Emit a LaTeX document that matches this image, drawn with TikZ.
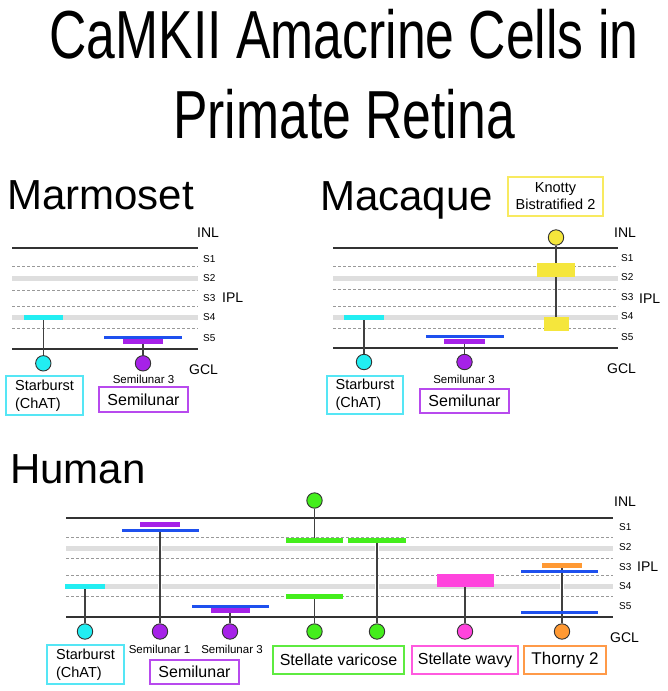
\documentclass[tikz,border=0pt]{standalone}
\usepackage{fontspec}
\setmainfont{Liberation Sans}
\definecolor{cyanC}{HTML}{22EEF2}
\definecolor{cyanB}{HTML}{55E6F5}
\definecolor{blueC}{HTML}{1E50EE}
\definecolor{purpC}{HTML}{A622E8}
\definecolor{purpB}{HTML}{B84AEE}
\definecolor{yelC}{HTML}{F5E63C}
\definecolor{yelB}{HTML}{F8EA60}
\definecolor{greenC}{HTML}{44EE1C}
\definecolor{greenB}{HTML}{5EEB40}
\definecolor{pinkC}{HTML}{FF44DD}
\definecolor{pinkB}{HTML}{FF5ADF}
\definecolor{orC}{HTML}{FF9933}
\definecolor{orB}{HTML}{FF9A48}
\definecolor{bandC}{HTML}{DEDEDE}
\definecolor{lineC}{HTML}{333333}
\definecolor{stemC}{HTML}{404040}
\pgfdeclarelayer{bg}
\pgfsetlayers{bg,main}
\tikzset{
  solidl/.style={draw=lineC, line width=1.4pt},
  dashl/.style={draw=black!40, dash pattern=on 3pt off 2pt, line width=0.7pt},
  bandl/.style={draw=bandC, line width=5pt},
  halo/.style={draw=white, line width=4pt},
  stem/.style={draw=stemC, line width=1.6pt},
  bar/.style={rectangle, inner sep=0pt, minimum height=5pt},
  thinbar/.style={rectangle, inner sep=0pt, minimum height=3pt, fill=blueC},
  soma/.style={circle, draw=lineC, line width=0.9pt, minimum size=15.4pt, inner sep=0pt},
  lab/.style={font=\fontsize{14}{16}\selectfont, inner sep=0pt, anchor=west},
  slab/.style={font=\fontsize{10}{12}\selectfont, inner sep=0pt, anchor=west},
  small/.style={font=\fontsize{11.5}{13}\selectfont, inner sep=0pt, anchor=base},
  sect/.style={font=\fontsize{42}{48}\selectfont, inner sep=0pt, anchor=base west},
  box/.style={rectangle, draw, line width=1.3pt, fill=white, inner sep=0pt, font=\fontsize{16}{19}\selectfont},
  box2/.style={rectangle, draw, line width=1.3pt, fill=white, inner sep=0pt, align=left, font=\fontsize{14.5}{18}\selectfont},
}
\begin{document}
\begin{tikzpicture}[x=1pt,y=-1pt]
\useasboundingbox (0,0) rectangle (667,691);
\begin{pgfonlayer}{bg}
\fill[white] (0,0) rectangle (667,691);
\end{pgfonlayer}

% Title
\node[anchor=base, inner sep=0pt, font=\fontsize{68}{80}\selectfont] (t1) at (344,58) {\scalebox{0.76}[1]{CaMKII Amacrine Cells in}};
\node[anchor=base, inner sep=0pt, font=\fontsize{68}{80}\selectfont] (t2) at (344,138) {\scalebox{0.76}[1]{Primate Retina}};

% Section titles
\node[sect] (marm) at (7,209) {Marmoset};
\node[sect] (maca) at (320,210) {Macaque};
\node[sect] (hum) at (10,483) {Human};

% ---------- Layers ----------
\begin{pgfonlayer}{bg}
% Marmoset
\draw[bandl] (12,278) -- (198,278);
\draw[bandl] (12,317) -- (198,317);
\foreach \y in {266,290,306,328} \draw[dashl] (12,\y) -- (198,\y);
\draw[solidl] (12,248) -- (198,248);
\draw[solidl] (12,349) -- (198,349);
% Macaque
\draw[bandl] (333,278) -- (618,278);
\draw[bandl] (333,317) -- (618,317);
\foreach \y in {266,289,306,328} \draw[dashl] (333,\y) -- (618,\y);
\draw[solidl] (333,248) -- (618,248);
\draw[solidl] (333,348) -- (618,348);
% Human
\draw[bandl] (66,548) -- (613,548);
\draw[bandl] (66,586) -- (613,586);
\foreach \y in {537,558,575,596} \draw[dashl] (66,\y) -- (613,\y);
\draw[solidl] (66,518) -- (613,518);
\draw[solidl] (66,617) -- (613,617);
\foreach \x in {160,377} {
  \draw[halo] (\x,545) -- (\x,551);
  \draw[halo] (\x,583) -- (\x,589);
}
\draw[halo] (562,583) -- (562,589);
\end{pgfonlayer}

% Layer labels
\node[lab] (m-inl) at (197,233) {INL};
\node[slab] (m-s1) at (203,259) {S1};
\node[slab] (m-s2) at (203,278) {S2};
\node[slab] (m-s3) at (203,298) {S3};
\node[slab] (m-s4) at (203,317) {S4};
\node[slab] (m-s5) at (203,338) {S5};
\node[lab] (m-ipl) at (222,298) {IPL};
\node[lab] (m-gcl) at (189,370) {GCL};

\node[lab] (q-inl) at (614,233) {INL};
\node[slab] (q-s1) at (621,258) {S1};
\node[slab] (q-s2) at (621,277) {S2};
\node[slab] (q-s3) at (621,297) {S3};
\node[slab] (q-s4) at (621,316) {S4};
\node[slab] (q-s5) at (621,337) {S5};
\node[lab] (q-ipl) at (639,299) {IPL};
\node[lab] (q-gcl) at (607,369) {GCL};

\node[lab] (h-inl) at (614,502) {INL};
\node[slab] (h-s1l) at (619,527) {S1};
\node[slab] (h-s2l) at (619,547) {S2};
\node[slab] (h-s3l) at (619,567) {S3};
\node[slab] (h-s4l) at (619,586) {S4};
\node[slab] (h-s5l) at (619,606) {S5};
\node[lab] (h-ipl) at (637,567) {IPL};
\node[lab] (h-gcl) at (610,638) {GCL};

% ---------- Marmoset cells ----------
\node[bar, fill=cyanC, minimum width=39pt] (m-sb) at (43.3,317) {};
\node[soma, fill=cyanC] (m-sbc) at (43.3,363.3) {};
\node[thinbar, minimum width=78pt] (m-s3b) at (143,337.3) {};
\node[bar, fill=purpC, minimum width=40pt] (m-s3p) at (143,341) {};
\node[soma, fill=purpC] (m-s3c) at (143,363.3) {};
\begin{pgfonlayer}{bg}
\draw[stem] (m-sb.center) -- (m-sbc);
\draw[stem] (m-s3p.center) -- (m-s3c);
\end{pgfonlayer}
\node[small] (m-s3t) at (143.5,383) {Semilunar 3};
\node[box2, draw=cyanB, minimum width=77pt, minimum height=39pt] (m-sbbox) at (44.5,395.5) {Starburst\\(ChAT)};
\node[box, draw=purpB, minimum width=89pt, minimum height=25pt] (m-slbox) at (143.5,399.5) {Semilunar};

% ---------- Macaque cells ----------
\node[bar, fill=cyanC, minimum width=40pt] (q-sb) at (364,317) {};
\node[soma, fill=cyanC] (q-sbc) at (364,362) {};
\node[thinbar, minimum width=78pt] (q-s3b) at (464.5,336.5) {};
\node[bar, fill=purpC, minimum width=41pt] (q-s3p) at (464.5,341) {};
\node[soma, fill=purpC] (q-s3c) at (464.5,362) {};
\node[soma, fill=yelC] (k-c) at (556,237.5) {};
\node[bar, fill=yelC, minimum width=38pt, minimum height=14pt] (k-b1) at (556,270) {};
\node[bar, fill=yelC, minimum width=25pt, minimum height=14pt] (k-b2) at (556,324) {};
\begin{pgfonlayer}{bg}
\draw[stem] (q-sb.center) -- (q-sbc);
\draw[stem] (q-s3p.center) -- (q-s3c);
\draw[stem] (k-c) -- (k-b2.center);
\end{pgfonlayer}
\node[small] (q-s3t) at (464,383) {Semilunar 3};
\node[box2, draw=cyanB, minimum width=76pt, minimum height=38pt] (q-sbbox) at (365,395) {Starburst\\(ChAT)};
\node[box, draw=purpB, minimum width=89pt, minimum height=24pt] (q-slbox) at (464.5,401) {Semilunar};
\node[box, draw=yelB, minimum width=95pt, minimum height=39pt, align=center, font=\fontsize{14.5}{17}\selectfont] (k-box) at (555.5,196.5) {Knotty\\Bistratified 2};

% ---------- Human cells ----------
\node[bar, fill=cyanC, minimum width=40pt] (h-sb) at (85,586.5) {};
\node[soma, fill=cyanC] (h-sbc) at (85,631.5) {};
\node[bar, fill=purpC, minimum width=40pt] (h-s1p) at (160,524) {};
\node[thinbar, minimum width=77pt] (h-s1b) at (160,530.7) {};
\node[soma, fill=purpC] (h-s1c) at (160,631.5) {};
\node[thinbar, minimum width=77pt] (h-s3b) at (230,606.3) {};
\node[bar, fill=purpC, minimum width=39pt] (h-s3p) at (230,610.3) {};
\node[soma, fill=purpC] (h-s3c) at (230,631.5) {};
\node[soma, fill=greenC] (h-v1top) at (314.5,500.5) {};
\node[bar, fill=greenC, minimum width=57pt] (h-v1t) at (314.5,540.4) {};
\node[bar, fill=greenC, minimum width=57pt] (h-v1b) at (314.5,596.5) {};
\node[soma, fill=greenC] (h-v1c) at (314.5,631.5) {};
\node[bar, fill=greenC, minimum width=58pt] (h-v2) at (377,540.4) {};
\node[soma, fill=greenC] (h-v2c) at (377,631.5) {};
\node[bar, fill=pinkC, minimum width=57pt, minimum height=13pt] (h-w) at (465,580.5) {};
\node[soma, fill=pinkC] (h-wc) at (465,631.5) {};
\node[bar, fill=orC, minimum width=40pt] (h-to) at (562,565) {};
\node[thinbar, minimum width=77pt] (h-tb1) at (559.5,571.7) {};
\node[thinbar, minimum width=77pt] (h-tb2) at (559.5,612) {};
\node[soma, fill=orC] (h-tc) at (562,631.5) {};
\begin{pgfonlayer}{bg}
\draw[stem] (h-sb.center) -- (h-sbc);
\draw[stem] (h-s1b.center) -- (h-s1c);
\draw[stem] (h-s3p.center) -- (h-s3c);
\draw[stem] (h-v1top) -- (h-v1t.center);
\draw[stem] (h-v1b.center) -- (h-v1c);
\draw[stem] (h-v2.center) -- (h-v2c);
\draw[stem] (h-w.center) -- (h-wc);
\draw[stem] (h-to.center) -- (h-tc);
\end{pgfonlayer}
\node[small] (h-s1t) at (159.5,653) {Semilunar 1};
\node[small] (h-s3t) at (232,653) {Semilunar 3};
\node[box2, draw=cyanB, minimum width=77pt, minimum height=39pt] (h-sbbox) at (85.5,664.5) {Starburst\\(ChAT)};
\node[box, draw=purpB, minimum width=89pt, minimum height=24pt] (h-slbox) at (194.5,672) {Semilunar};
\node[box, draw=greenB, minimum width=131pt, minimum height=28pt] (h-vbox) at (338.5,660) {Stellate varicose};
\node[box, draw=pinkB, minimum width=106pt, minimum height=28pt] (h-wbox) at (465,660) {Stellate wavy};
\node[box, draw=orB, minimum width=82pt, minimum height=28pt, font=\fontsize{17}{20}\selectfont] (h-tbox) at (565,660) {Thorny 2};
\end{tikzpicture}
\end{document}
